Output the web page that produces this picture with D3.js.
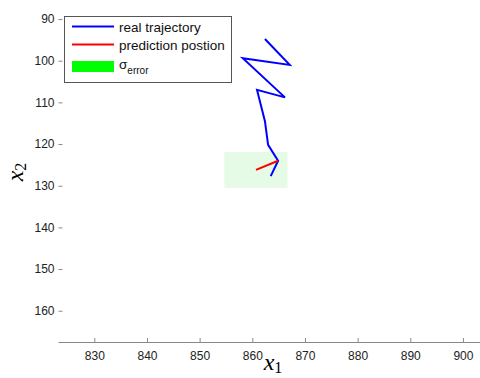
<!DOCTYPE html>
<html>
<head>
<meta charset="utf-8">
<script src="https://cdn.jsdelivr.net/npm/d3@7"></script>
<style>
  body { margin: 0; background: #fff; }
  svg text { font-family: "Liberation Sans", Arial, sans-serif; }
</style>
</head>
<body>
<div id="chart"></div>
<script>
// real trajectory (x1, x2)
var trajX = [862.4, 867.1, 858.2, 866.2, 860.9, 862.4, 863.0, 864.9, 863.5];
var trajY = [94.8, 101.0, 99.4, 108.8, 107.0, 114.5, 120.2, 124.0, 127.7];

// prediction from last point of trajectory
var predX = [864.9, 860.7];
var predY = [124.0, 126.2];

// sigma error box around predicted position
var sigmaX = 6;
var sigmaY = 4.3;

var xTicks = [830, 840, 850, 860, 870, 880, 890, 900];
var yTicks = [90, 100, 110, 120, 130, 140, 150, 160];

var legendLabels = ["real trajectory", "prediction postion", "σ"];

var width = 480, height = 378;

var svg = d3.select("#chart").append("svg")
    .attr("width", width)
    .attr("height", height);

var xScale = d3.scaleLinear()
    .domain([823.2, 903.2])
    .range([58.5, 479.8]);

var yScale = d3.scaleLinear()
    .domain([88, 167.5])
    .range([10.7, 342]);

// error box
var px = predX[predX.length - 1], py = predY[predY.length - 1];
svg.append("rect")
    .attr("x", xScale(px - sigmaX))
    .attr("y", yScale(py - sigmaY))
    .attr("width", xScale(px + sigmaX) - xScale(px - sigmaX))
    .attr("height", yScale(py + sigmaY) - yScale(py - sigmaY))
    .attr("fill", "#e6fbe6");

// x axis
var xAxis = d3.axisBottom(xScale).tickValues(xTicks).tickSize(0).tickPadding(9);
var gx = svg.append("g")
    .attr("transform", "translate(0," + yScale(167.5) + ")")
    .call(xAxis);
gx.select(".domain").attr("stroke", "#888").attr("d", "M58.5,0.5H480");
gx.selectAll(".tick text").attr("fill", "#222").style("font-size", "12px");
gx.selectAll(".tick").append("line")
    .attr("y1", 0).attr("y2", -4)
    .attr("stroke", "#888");

// y axis (no axis line, ticks only)
var yAxis = d3.axisLeft(yScale).tickValues(yTicks).tickSize(0).tickPadding(4);
var gy = svg.append("g")
    .attr("transform", "translate(58.5,0)")
    .call(yAxis);
gy.select(".domain").remove();
gy.selectAll(".tick text").attr("fill", "#222").style("font-size", "12px");
gy.selectAll(".tick").append("line")
    .attr("x1", 0).attr("x2", 4)
    .attr("stroke", "#888");

// trajectory
var line = d3.line()
    .x(d => xScale(d[0]))
    .y(d => yScale(d[1]));

svg.append("path")
    .datum(trajX.map((v, i) => [v, trajY[i]]))
    .attr("d", line)
    .attr("fill", "none")
    .attr("stroke", "#0000ff")
    .attr("stroke-width", 2);

svg.append("path")
    .datum(predX.map((v, i) => [v, predY[i]]))
    .attr("d", line)
    .attr("fill", "none")
    .attr("stroke", "#ff0000")
    .attr("stroke-width", 2);

// axis labels
var xl = svg.append("text")
    .attr("x", 273)
    .attr("y", 370)
    .attr("text-anchor", "middle")
    .style("font-family", "'Liberation Serif', 'DejaVu Serif', serif")
    .style("font-size", "24px");
xl.append("tspan").style("font-style", "italic").text("x");
xl.append("tspan").attr("dy", 3).style("font-size", "16px").text("1");

var yl = svg.append("text")
    .attr("transform", "translate(23,172) rotate(-90)")
    .attr("text-anchor", "middle")
    .style("font-family", "'Liberation Serif', 'DejaVu Serif', serif")
    .style("font-size", "24px");
yl.append("tspan").style("font-style", "italic").text("x");
yl.append("tspan").attr("dy", 3).style("font-size", "16px").text("2");

// legend
var legend = svg.append("g");
legend.append("rect")
    .attr("x", 64.5).attr("y", 16.5)
    .attr("width", 167).attr("height", 66)
    .attr("fill", "#fff")
    .attr("stroke", "#555");

legend.append("line")
    .attr("x1", 72).attr("x2", 114).attr("y1", 26.5).attr("y2", 26.5)
    .attr("stroke", "#0000ff").attr("stroke-width", 2);
legend.append("line")
    .attr("x1", 72).attr("x2", 114).attr("y1", 44.5).attr("y2", 44.5)
    .attr("stroke", "#ff0000").attr("stroke-width", 2);
legend.append("rect")
    .attr("x", 72).attr("y", 61).attr("width", 42).attr("height", 11)
    .attr("fill", "#00ff00");

legend.append("text").attr("x", 119).attr("y", 32)
    .style("font-size", "13.5px").attr("fill", "#111").text(legendLabels[0]);
legend.append("text").attr("x", 119).attr("y", 50)
    .style("font-size", "13.5px").attr("fill", "#111").text(legendLabels[1]);
var sl = legend.append("text").attr("x", 119).attr("y", 69)
    .style("font-size", "13.5px").attr("fill", "#111");
sl.append("tspan").text(legendLabels[2]);
sl.append("tspan").attr("dy", 5).style("font-size", "10px").text("error");
</script>
</body>
</html>
